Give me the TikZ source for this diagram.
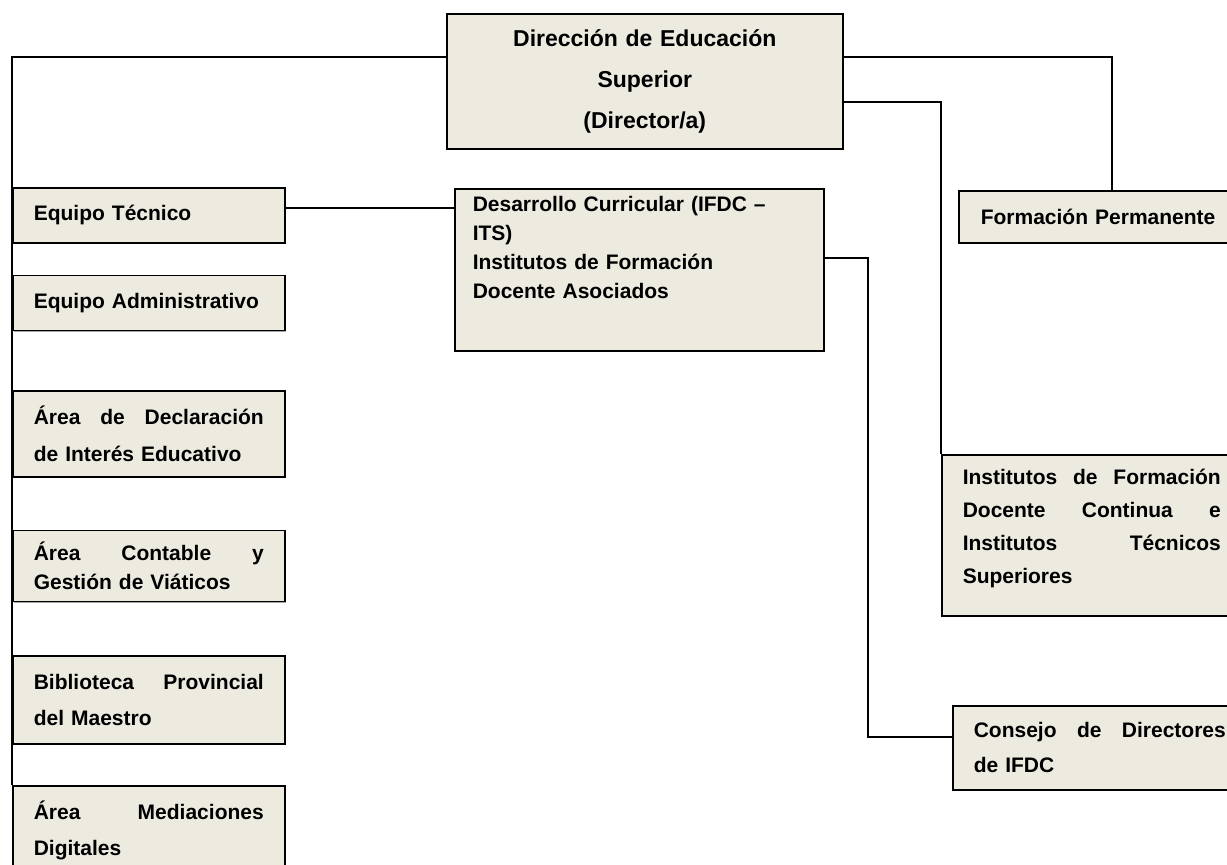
\documentclass[tikz,border=0pt]{standalone}
\usepackage{fontspec}
\setmainfont{Liberation Sans}
\usetikzlibrary{positioning, shadows}
\definecolor{boxfill}{RGB}{237,234,224}

\begin{document}
\begin{tikzpicture}[
  x=1pt, y=-1pt,
  every node/.style={font=\fontsize{21}{35}\selectfont\bfseries},
  lsp/.style={font=\fontsize{21}{#1}\selectfont\bfseries},
  unit/.style={rectangle, draw, line width=1.6pt, fill=boxfill, align=left,
    inner xsep=21pt, inner ysep=3pt,
    drop shadow={shadow xshift=1.2pt, shadow yshift=-1.2pt, opacity=1, fill=black!35}},
  side/.style={unit, text width=230pt, minimum width=272pt},
  conn/.style={line width=1.4pt}
]
\useasboundingbox (0,0) rectangle (1227,865);
\clip (0,0) rectangle (1227,865);

% Nodes
\node[unit, anchor=north west, text width=360pt, minimum width=396pt, minimum height=135pt,
  inner xsep=18pt, align=center, font=\fontsize{23}{41}\selectfont\bfseries] (dir) at (446,13)
  {Dirección de Educación\\Superior\\(Director/a)};

\node[side, minimum height=55pt, anchor=north west] (tec) at (12,187) {Equipo Técnico};
\node[side, minimum height=55pt, below=31pt of tec] (adm) {Equipo Administrativo};
\node[side, minimum height=86pt, lsp=37, below=59pt of adm] (decl)
  {Área\hfill de\hfill Declaración\\de Interés Educativo};
\node[side, minimum height=71pt, lsp=29, below=52pt of decl] (cont)
  {Área\hfill Contable\hfill y\\Gestión de Viáticos};
\node[side, minimum height=88pt, lsp=36, below=53pt of cont] (bib)
  {Biblioteca\hfill Provincial\\del Maestro};
\node[side, minimum height=90pt, lsp=36, below=40pt of bib] (med)
  {Área\hfill Mediaciones\\Digitales};

\node[unit, anchor=north west, text width=333pt, minimum width=369pt, minimum height=162pt,
  inner xsep=18pt, lsp=29] (desa) at (454,188)
  {Desarrollo Curricular (IFDC –\\ITS)\\Institutos de Formación\\Docente Asociados\par\kern45pt};

\node[unit, anchor=north west, text width=262pt, minimum width=306pt, minimum height=52pt,
  inner xsep=22pt] (perm) at (958,190) {Formación Permanente};
\node[unit, anchor=north west, text width=258pt, minimum width=300pt, minimum height=161pt,
  lsp=33] (inst) at (941,454)
  {Institutos\hfill de\hfill Formación\\Docente\hfill Continua\hfill e\\Institutos\hfill Técnicos\\Superiores\par\kern14pt};
\node[unit, anchor=north west, text width=252pt, minimum width=294pt, minimum height=84pt,
  lsp=35] (cons) at (952,705) {Consejo\hfill de\hfill Directores\\de IFDC};

% Lines
\draw[conn] ([yshift=-44pt]dir.north west) -| (med.north west);
\draw[conn] ([yshift=-44pt]dir.north east) -| (perm.north);
\draw[conn] ([yshift=-89pt]dir.north east) -| (inst.north west);
\draw[conn] ([yshift=-21pt]tec.north east) -- ([yshift=-20pt]desa.north west);
\draw[conn] ([yshift=-70pt]desa.north east) -| ([xshift=-84pt, yshift=-32pt]cons.north west)
  -- ([yshift=-32pt]cons.north west);

\end{tikzpicture}
\end{document}
